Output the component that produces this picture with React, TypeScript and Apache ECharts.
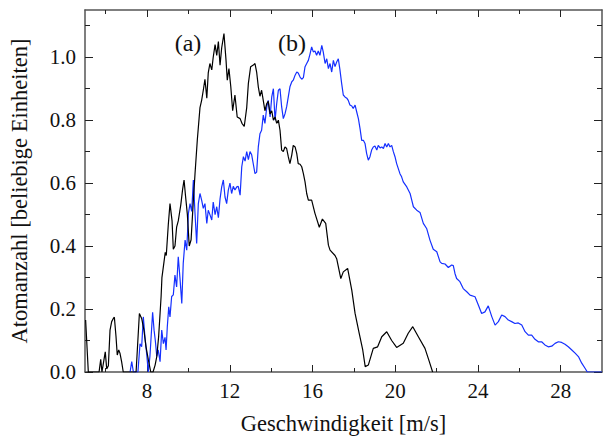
import React, { useEffect, useRef } from "react";
import * as echarts from "echarts";

// Curve (a), black
const aSpeed = [5.03,5.16,5.68,5.76,5.82,5.92,5.98,6.05,6.13,6.21,6.29,6.37,6.42,6.50,6.56,6.63,6.69,6.77,6.85,7.47,7.63,7.74,7.85,7.95,8.06,8.18,8.29,8.39,8.47,8.56,8.63,8.68,8.72,8.82,8.88,8.93,9.03,9.11,9.21,9.27,9.35,9.43,9.51,9.63,9.72,9.79,9.86,9.95,10.04,10.13,10.24,10.32,10.43,10.56,10.64,10.72,10.80,10.89,10.96,11.04,11.13,11.20,11.29,11.37,11.45,11.53,11.61,11.72,11.82,11.88,11.96,12.05,12.14,12.25,12.36,12.50,12.59,12.70,12.82,12.90,13.01,13.14,13.22,13.30,13.38,13.46,13.54,13.62,13.70,13.79,13.86,13.95,14.03,14.11,14.19,14.27,14.35,14.43,14.51,14.59,14.67,14.75,14.83,14.91,15.00,15.07,15.16,15.24,15.31,15.40,15.48,15.56,15.64,15.72,15.80,15.96,16.12,16.33,16.48,16.64,16.77,16.85,17.09,17.17,17.37,17.49,17.70,17.90,18.06,18.26,18.43,18.55,18.70,18.94,19.15,19.35,19.59,19.83,20.07,20.39,20.63,20.85,21.12,21.44,21.65,21.81];
const aCount = [0.165,0,0,0.04,0,0.04,0.064,0.01,0.02,0.133,0.16,0.17,0.174,0.112,0.054,0.07,0.06,0.033,0,0,0.186,0.17,0.133,0.08,0.04,0,0,0.022,0.049,0.112,0.186,0.24,0.30,0.35,0.38,0.37,0.47,0.535,0.48,0.39,0.40,0.46,0.48,0.53,0.58,0.61,0.56,0.50,0.40,0.42,0.546,0.63,0.736,0.84,0.863,0.895,0.93,0.87,0.95,0.98,0.96,1.00,1.04,1.006,1.05,0.975,1.03,1.075,0.99,0.927,0.964,0.906,0.83,0.88,0.81,0.805,0.79,0.78,0.84,0.917,0.97,0.975,0.98,0.953,0.906,0.876,0.895,0.863,0.83,0.853,0.86,0.82,0.83,0.80,0.81,0.79,0.80,0.768,0.705,0.70,0.715,0.71,0.684,0.662,0.69,0.72,0.715,0.694,0.662,0.66,0.652,0.63,0.604,0.567,0.546,0.546,0.504,0.46,0.486,0.472,0.403,0.387,0.37,0.36,0.297,0.318,0.329,0.26,0.186,0.123,0.07,0.017,0.022,0.075,0.08,0.112,0.128,0.10,0.078,0.091,0.123,0.144,0.112,0.075,0.033,0];

// Curve (b), blue
const bSpeed = [7.18,7.26,7.34,7.56,7.66,7.74,7.82,7.90,7.98,8.06,8.14,8.27,8.34,8.40,8.47,8.54,8.63,8.71,8.79,8.87,8.92,8.98,9.05,9.11,9.19,9.27,9.35,9.43,9.51,9.59,9.68,9.75,9.84,9.92,10.00,10.08,10.16,10.24,10.32,10.40,10.48,10.56,10.64,10.72,10.80,10.89,10.96,11.04,11.13,11.20,11.29,11.37,11.45,11.53,11.61,11.69,11.77,11.85,11.93,12.01,12.09,12.17,12.25,12.34,12.41,12.50,12.58,12.66,12.74,12.82,12.90,12.98,13.06,13.14,13.22,13.30,13.38,13.46,13.54,13.62,13.70,13.79,13.86,13.95,14.03,14.11,14.19,14.27,14.35,14.43,14.51,14.59,14.67,14.75,14.83,14.91,15.00,15.07,15.16,15.24,15.31,15.40,15.48,15.56,15.64,15.72,15.80,15.88,15.96,16.04,16.12,16.20,16.28,16.36,16.45,16.52,16.61,16.69,16.77,16.85,16.93,17.01,17.09,17.17,17.25,17.33,17.41,17.49,17.57,17.66,17.73,17.81,17.90,17.97,18.06,18.14,18.22,18.30,18.38,18.46,18.54,18.62,18.70,18.78,18.86,18.94,19.02,19.11,19.18,19.27,19.35,19.43,19.51,19.59,19.67,19.75,19.83,19.91,19.99,20.07,20.15,20.23,20.31,20.39,20.56,20.72,20.80,20.88,21.04,21.20,21.36,21.52,21.68,21.84,22.01,22.17,22.25,22.41,22.57,22.73,22.81,22.89,22.97,23.13,23.29,23.46,23.62,23.86,24.02,24.18,24.34,24.50,24.67,24.83,24.99,25.15,25.31,25.47,25.63,25.79,25.95,26.12,26.28,26.44,26.60,26.76,26.92,27.08,27.24,27.40,27.57,27.73,27.89,28.05,28.21,28.37,28.54,28.70,28.86,29.02,29.18,29.29,30];
const bCount = [0,0.033,0,0,0.09,0.08,0.175,0.11,0.06,0,0.05,0.19,0.133,0.10,0.05,0.07,0.033,0.133,0.09,0.11,0.07,0.144,0.207,0.175,0.24,0.245,0.308,0.27,0.366,0.30,0.218,0.345,0.419,0.387,0.504,0.535,0.51,0.61,0.504,0.408,0.535,0.567,0.546,0.52,0.535,0.472,0.514,0.50,0.483,0.54,0.50,0.525,0.49,0.55,0.588,0.61,0.556,0.535,0.578,0.60,0.567,0.59,0.578,0.588,0.59,0.562,0.652,0.684,0.67,0.70,0.675,0.70,0.69,0.66,0.63,0.635,0.715,0.757,0.768,0.816,0.79,0.842,0.863,0.81,0.874,0.90,0.80,0.853,0.895,0.90,0.842,0.805,0.82,0.842,0.874,0.906,0.922,0.927,0.943,0.953,0.95,0.937,0.93,0.935,0.97,0.98,0.99,1.01,1.033,1.017,1.02,1.006,1.02,1.006,1.038,1.017,0.98,0.995,0.964,0.98,0.953,0.99,0.97,0.985,0.995,0.959,0.917,0.88,0.874,0.87,0.863,0.848,0.845,0.837,0.848,0.826,0.805,0.773,0.736,0.736,0.726,0.694,0.673,0.684,0.705,0.715,0.718,0.705,0.72,0.712,0.715,0.71,0.726,0.715,0.726,0.715,0.72,0.70,0.684,0.662,0.646,0.63,0.62,0.604,0.588,0.567,0.546,0.525,0.514,0.507,0.472,0.456,0.419,0.39,0.382,0.35,0.345,0.343,0.332,0.34,0.338,0.313,0.297,0.287,0.265,0.255,0.244,0.239,0.213,0.186,0.191,0.21,0.176,0.149,0.16,0.181,0.176,0.165,0.16,0.154,0.156,0.149,0.128,0.117,0.117,0.104,0.096,0.096,0.086,0.08,0.082,0.091,0.096,0.094,0.088,0.08,0.07,0.06,0.049,0.028,0.012,0,0];

const xMajorTicks = [8, 12, 16, 20, 24, 28];
const xMinorTicks = [6, 10, 14, 18, 22, 26];
const yMajorTicks = [0, 0.2, 0.4, 0.6, 0.8, 1.0];
const yMinorTicks = [0.1, 0.3, 0.5, 0.7, 0.9, 1.1];

const FONT = "'Liberation Serif', 'Times New Roman', serif";
const AXIS_COLOR = "#555";

export default function App() {
  const ref = useRef<HTMLDivElement>(null);
  useEffect(() => {
    if (!ref.current) return;
    const chart = echarts.init(ref.current, undefined, { renderer: "svg" });
    const aData = aSpeed.map((x, i) => [x, aCount[i]]);
    const bData = bSpeed.map((x, i) => [x, bCount[i]]);

    const xBase = (position: string, ticks: number[], len: number, showLine: boolean, labels: boolean, extra: any = {}) => ({
      type: "value",
      position,
      min: 5,
      max: 30,
      splitLine: { show: false },
      axisLine: { show: showLine, onZero: false, lineStyle: { color: AXIS_COLOR, width: 1.5 } },
      axisTick: { show: true, inside: true, length: len, customValues: ticks, lineStyle: { color: "#222", width: 1 } },
      axisLabel: labels
        ? { show: true, customValues: ticks, color: "#111", fontFamily: FONT, fontSize: 21, margin: 8 }
        : { show: false },
      ...extra,
    });
    const yBase = (position: string, ticks: number[], len: number, showLine: boolean, labels: boolean, extra: any = {}) => ({
      type: "value",
      position,
      min: 0,
      max: 1.15,
      splitLine: { show: false },
      axisLine: { show: showLine, onZero: false, lineStyle: { color: AXIS_COLOR, width: 1.5 } },
      axisTick: { show: true, inside: true, length: len, customValues: ticks, lineStyle: { color: "#222", width: 1 } },
      axisLabel: labels
        ? { show: true, customValues: ticks, color: "#111", fontFamily: FONT, fontSize: 21, margin: 9, formatter: (v: number) => v.toFixed(1) }
        : { show: false },
      ...extra,
    });

    chart.setOption({
      animation: false,
      backgroundColor: "#fff",
      grid: { left: 85, top: 10, right: 1, bottom: 67, containLabel: false, outerBoundsMode: "none" },
      xAxis: [
        xBase("bottom", xMajorTicks, 7, true, true, {
          name: "Geschwindigkeit [m/s]",
          nameLocation: "middle",
          nameGap: 40,
          nameTextStyle: { fontFamily: FONT, fontSize: 22.5, color: "#111", verticalAlign: "top" },
        }),
        xBase("bottom", xMinorTicks, 4, false, false),
        xBase("top", xMajorTicks, 7, true, false),
        xBase("top", xMinorTicks, 4, false, false),
      ],
      yAxis: [
        yBase("left", yMajorTicks, 8, true, true, {
          name: "Atomanzahl [beliebige Einheiten]",
          nameLocation: "middle",
          nameGap: 54,
          nameTextStyle: { fontFamily: FONT, fontSize: 22.5, color: "#111" },
        }),
        yBase("left", yMinorTicks, 5, false, false),
        yBase("right", yMajorTicks, 8, true, false),
        yBase("right", yMinorTicks, 5, false, false),
      ],
      series: [
        {
          type: "line",
          name: "(a)",
          data: aData,
          xAxisIndex: 0,
          yAxisIndex: 0,
          showSymbol: false,
          symbol: "none",
          lineStyle: { color: "#000", width: 1.2 },
          z: 3,
        },
        {
          type: "line",
          name: "(b)",
          data: bData,
          xAxisIndex: 0,
          yAxisIndex: 0,
          showSymbol: false,
          symbol: "none",
          lineStyle: { color: "#1530ff", width: 1.2 },
          z: 2,
        },
      ],
      graphic: [
        { type: "text", x: 188, y: 43, style: { text: "(a)", font: `24px ${FONT}`, fill: "#111", align: "center", verticalAlign: "middle" } },
        { type: "text", x: 292, y: 43, style: { text: "(b)", font: `24px ${FONT}`, fill: "#111", align: "center", verticalAlign: "middle" } },
      ],
    });
    return () => chart.dispose();
  }, []);
  return <div ref={ref} style={{ position: "fixed", left: 0, top: 0, width: 603, height: 439 }} />;
}
